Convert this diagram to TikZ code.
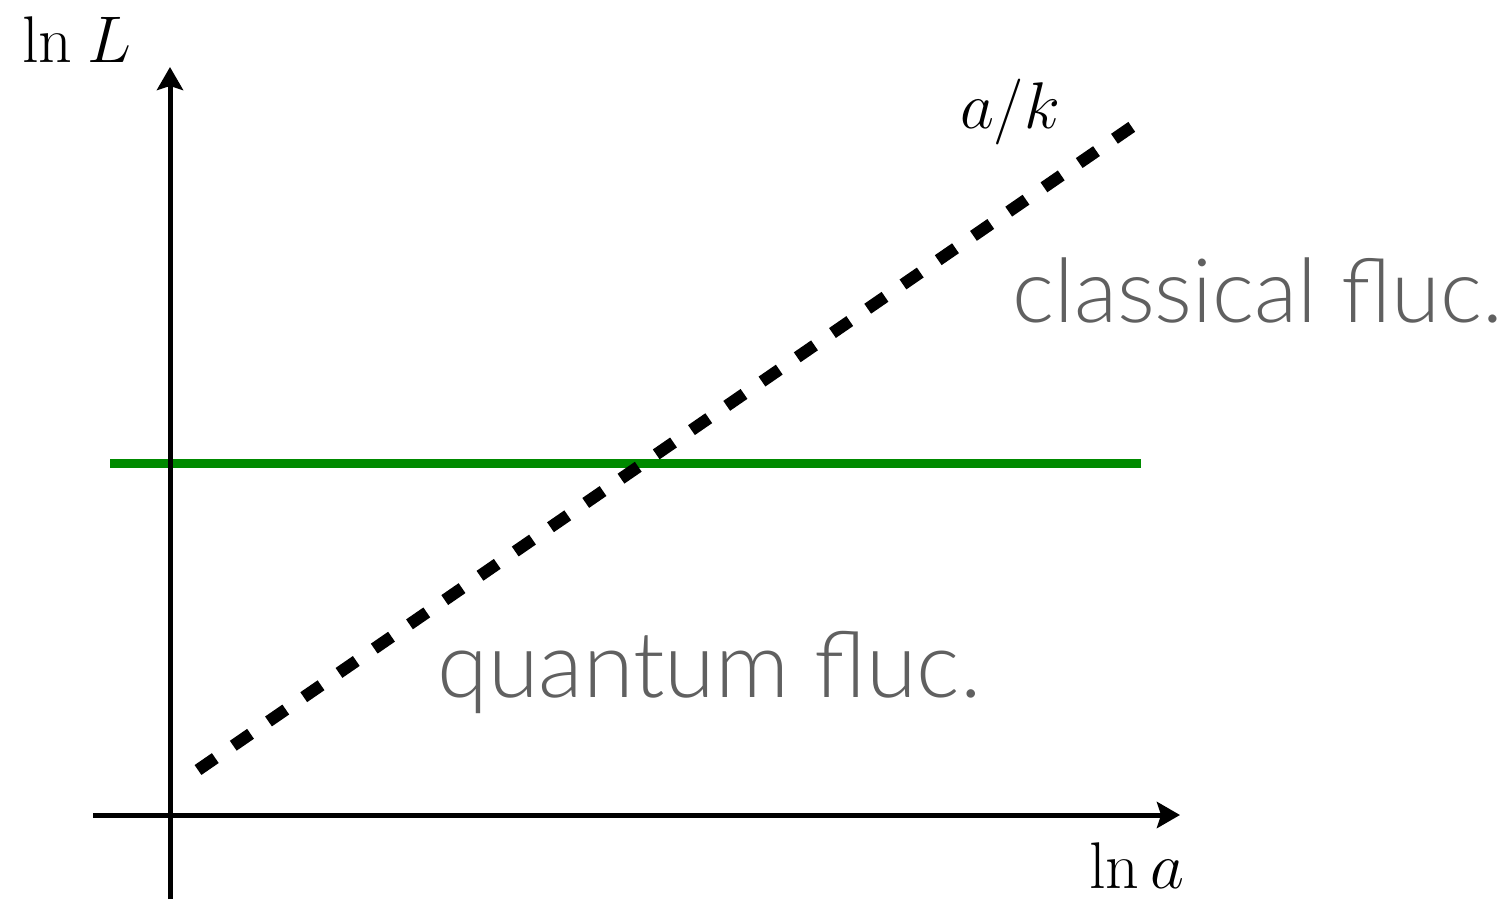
\RequirePackage{fix-cm}
\documentclass[tikz,border=0pt]{standalone}
\usepackage{fontspec}
\newfontfamily\gillfont{Lato Light}
\usetikzlibrary{arrows.meta}
\definecolor{linegreen}{RGB}{0,138,0}
\definecolor{labelgray}{RGB}{96,96,96}
\tikzset{
  axis/.style={line width=2.5pt,-{Stealth[length=11.5pt,width=13pt,inset=2pt]}},
  greenline/.style={line width=4.5pt,draw=linegreen},
  dashline/.style={line width=6pt,dash pattern=on 10.5pt off 10.9pt},
  mathlabel/.style={inner sep=0pt,font=\fontsize{33}{40}\selectfont},
  regionlabel/.style={inner sep=0pt,text=labelgray,font=\gillfont\fontsize{46}{55}\selectfont}
}
\begin{document}
\begin{tikzpicture}[x=0.5pt,y=-0.5pt]
\useasboundingbox (0,0) rectangle (1509,899);
% coordinates
\coordinate (yb) at (170,899);
\coordinate (yt) at (170,67);
\coordinate (xl) at (93,815);
\coordinate (xr) at (1180,815);
\coordinate (gl) at (110,463);
\coordinate (gr) at (1141,463);
\coordinate (ds) at (198,770);
\coordinate (de) at (1133,126);
% lines
\draw[greenline] (gl) -- (gr);
\draw[dashline] (ds) -- (de);
\draw[axis] (yb) -- (yt);
\draw[axis] (xl) -- (xr);
% labels
\node[mathlabel,anchor=base west] (lnL) at (22,63) {$\ln\mkern1mu L$};
\node[mathlabel,anchor=base] (ak) at (1010,128) {$a/k$};
\node[mathlabel,anchor=base] (lna) at (1137,888) {$\ln a$};
\node[regionlabel,anchor=base west,font=\gillfont\fontsize{44.5}{53}\selectfont] (cl) at (1012,322) {classical fluc.};
\node[regionlabel,anchor=base west] (qu) at (437,697) {quantum fluc.};
\end{tikzpicture}
\end{document}
